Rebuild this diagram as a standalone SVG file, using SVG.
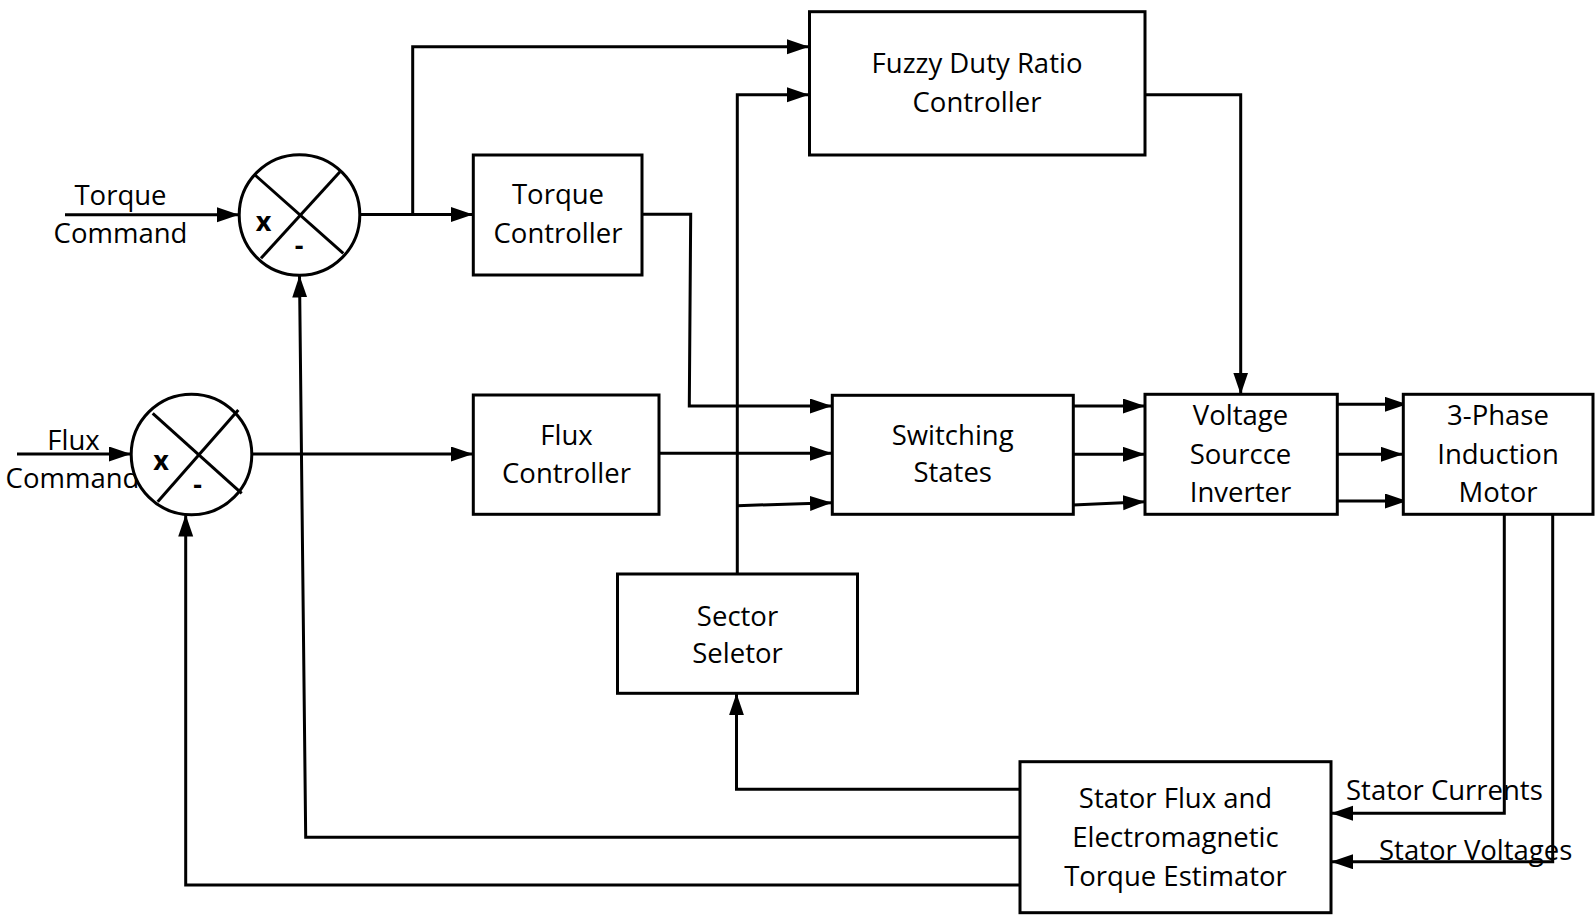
<svg xmlns="http://www.w3.org/2000/svg" width="1595" height="915" viewBox="0 0 1595 915">
<style>
.box{fill:#fff;stroke:#000;stroke-width:3}
.sum{fill:#fff;stroke:#000;stroke-width:3}
.xl{stroke:#000;stroke-width:3;fill:none}
.c{fill:none;stroke:#000;stroke-width:3;stroke-linejoin:miter}
.arr{marker-end:url(#ah)}
text{font-family:"Open Sans","Liberation Sans",sans-serif;font-size:27.5px;fill:#000}
.m{text-anchor:middle}
.b{font-weight:bold;font-size:27px}
</style>
<defs>
<marker id="ah" markerUnits="userSpaceOnUse" markerWidth="24" markerHeight="16" refX="22" refY="7.5" orient="auto">
<path d="M0,0 L22,7.5 L0,15 z" fill="#000"/>
</marker>
</defs>
<g id="connectors">
<path class="c arr" d="M65,214.7 L239,214.7"/>
<path class="c arr" d="M17,454 L131,454"/>
<path class="c arr" d="M360,214.5 L473,214.5"/>
<path class="c arr" d="M412.7,214.5 L412.7,46.7 L809,46.7"/>
<path class="c arr" d="M252,454 L473,454"/>
<path class="c arr" d="M642,214.3 L690.7,214.3 L689.3,406 L832,406"/>
<path class="c arr" d="M659,453.3 L832,453.3"/>
<path class="c arr" d="M737.3,574 L737.3,94.7 L809,94.7"/>
<path class="c arr" d="M737.3,505.7 L832,502.7"/>
<path class="c arr" d="M1073,406 L1145,406"/>
<path class="c arr" d="M1073,454.3 L1145,454.3"/>
<path class="c arr" d="M1073,505 L1145,501.7"/>
<path class="c arr" d="M1145,94.7 L1240.7,94.7 L1240.7,394.5"/>
<path class="c arr" d="M1337,404.3 L1407,404.3"/>
<path class="c arr" d="M1337,454.3 L1403,454.3"/>
<path class="c arr" d="M1337,501 L1407,501"/>
<path class="c arr" d="M1504.3,514 L1504.3,813.3 L1331,813.3"/>
<path class="c arr" d="M1552.7,514 L1552.7,861.7 L1331,861.7"/>
<path class="c arr" d="M1020,789.3 L736.5,789.3 L736.5,693.3"/>
<path class="c arr" d="M1020,837.3 L305.7,837.3 L299.5,275.5"/>
<path class="c arr" d="M1020,885 L185.7,885 L185.7,514.5"/>
</g>
<g id="input-labels">
<text class="m" x="120.5" y="205">Torque</text>
<text class="m" x="120.5" y="243">Command</text>
<text class="m" x="73.5" y="450">Flux</text>
<text class="m" x="72.5" y="488">Command</text>
</g>
<g id="torque-sum">
<circle class="sum" cx="299.5" cy="215" r="60.3"/>
<line class="xl" x1="255" y1="175" x2="343.3" y2="253.3"/>
<line class="xl" x1="340" y1="171.7" x2="261" y2="258.3"/>
<text class="m b" x="263.5" y="231">x</text>
<text class="m b" x="299" y="255">-</text>
</g>
<g id="flux-sum">
<circle class="sum" cx="191.5" cy="454.5" r="60.3"/>
<line class="xl" x1="152.7" y1="413.3" x2="241.7" y2="493.3"/>
<line class="xl" x1="238.3" y1="410" x2="157.7" y2="501.7"/>
<text class="m b" x="161" y="470">x</text>
<text class="m b" x="197.5" y="494">-</text>
</g>
<g id="fuzzy">
<rect class="box" x="809.5" y="11.7" width="335.5" height="143.3"/>
<text class="m" x="977" y="73">Fuzzy Duty Ratio</text>
<text class="m" x="977" y="112">Controller</text>
</g>
<g id="torque-controller">
<rect class="box" x="473.3" y="155" width="168.7" height="120"/>
<text class="m" x="558" y="204">Torque</text>
<text class="m" x="558" y="243">Controller</text>
</g>
<g id="flux-controller">
<rect class="box" x="473.3" y="395" width="185.7" height="119.3"/>
<text class="m" x="566.5" y="445">Flux</text>
<text class="m" x="566.5" y="483">Controller</text>
</g>
<g id="switching-states">
<rect class="box" x="832.3" y="395.3" width="241" height="119"/>
<text class="m" x="952.7" y="445">Switching</text>
<text class="m" x="952.7" y="482">States</text>
</g>
<g id="vsi">
<rect class="box" x="1145" y="394.3" width="192.3" height="120"/>
<text class="m" x="1240.5" y="425">Voltage</text>
<text class="m" x="1240.5" y="464">Sourcce</text>
<text class="m" x="1240.5" y="502">Inverter</text>
</g>
<g id="motor">
<rect class="box" x="1403.3" y="394.3" width="189.7" height="120"/>
<text class="m" x="1498" y="425">3-Phase</text>
<text class="m" x="1498" y="464">Induction</text>
<text class="m" x="1498" y="502">Motor</text>
</g>
<g id="sector-selector">
<rect class="box" x="617.5" y="574" width="240" height="119.3"/>
<text class="m" x="737.5" y="625.5">Sector</text>
<text class="m" x="737.5" y="663">Seletor</text>
</g>
<g id="estimator">
<rect class="box" x="1020" y="761.7" width="311" height="151"/>
<text class="m" x="1175.5" y="808">Stator Flux and</text>
<text class="m" x="1175.5" y="847">Electromagnetic</text>
<text class="m" x="1175.5" y="885.5">Torque Estimator</text>
</g>
<g id="feedback-labels">
<text x="1346" y="800">Stator Currents</text>
<text x="1379" y="860">Stator Voltages</text>
</g>
</svg>
